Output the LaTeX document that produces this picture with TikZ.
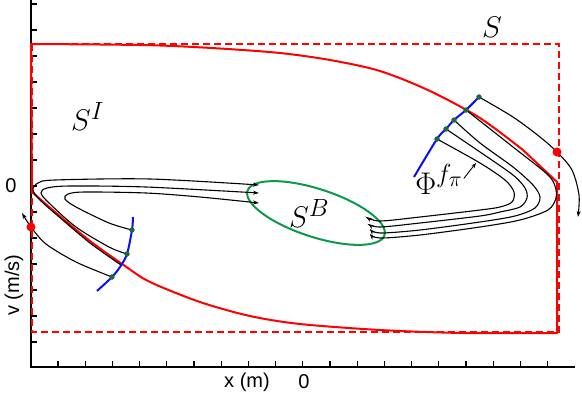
\documentclass[tikz,border=0pt]{standalone}
\usepackage{fontspec}
\newfontfamily\axisfont{Liberation Sans}
\usepackage{tikz}
\usetikzlibrary{shapes.geometric,arrows.meta,positioning}
\definecolor{setRed}{HTML}{FF0000}
\definecolor{basinGreen}{HTML}{0A9A4A}
\definecolor{dotGreen}{HTML}{1B6B3A}
\definecolor{sectBlue}{HTML}{0A10F0}
\tikzset{
  axisline/.style={draw=black, line width=2pt},
  tickmark/.style={draw=black, line width=1.3pt},
  setline/.style={draw=setRed, line width=2pt, line join=round},
  setdash/.style={draw=setRed, line width=2pt, dash pattern=on 7pt off 4pt},
  sectline/.style={draw=sectBlue, line width=2pt},
  basin/.style={ellipse, draw=basinGreen, line width=2pt, inner sep=0pt,
    minimum width=144pt, minimum height=48pt},
  traj/.style={draw=black, line width=1.1pt, -{Stealth[length=6pt,width=4pt]}},
  hitdot/.style={circle, fill=dotGreen, inner sep=0pt, minimum size=5pt},
  exitdot/.style={circle, fill=setRed, inner sep=0pt, minimum size=9pt},
  axislab/.style={font=\axisfont\fontsize{20}{24}\selectfont, inner sep=0pt},
  setlab/.style={font=\Huge, scale=1.2, inner sep=0pt, anchor=base west}
}

\begin{document}
\begin{tikzpicture}[x=1pt, y=-1pt]
\useasboundingbox (0,0) rectangle (582,394);

% axes
\draw[axisline] (31,0) -- (31,368);
\draw[axisline] (30,367) -- (575,367);
\foreach \ty in {4,30,...,342}
  \draw[tickmark] (31,\ty) -- (37,\ty);
\foreach \k in {0,...,18}
  \draw[tickmark] ({58+27.2*\k},367) -- ({58+27.2*\k},361);
\node[axislab] (vzero) at (11,186) {0};
\node[axislab, rotate=90] (vlab) at (14,285) {v (m/s)};
\node[axislab] (xlab) at (247,382) {x (m)};
\node[axislab] (xzero) at (304,382) {0};

% the sets S and S^I
\draw[setdash] (32,44) rectangle (559,332);
\draw[setline] plot[smooth] coordinates {(31,44) (100,44.5) (160,45.5) (220,48.5)
    (280,53) (330,60) (380,71) (430,91) (480,118) (523,150)}
  -- (557,182) -- (557,333)
  -- plot[smooth] coordinates {(557,333) (463,333) (380,330) (300,324) (250,316)
    (200,302) (150,282) (125,266) (90,241) (55,212) (32,192)}
  -- cycle;

% basin S^B
\node[basin, rotate=-18] (SB) at (316,213) {};

% hit points on the two sections
\node[hitdot] (gL1) at (132,230) {};
\node[hitdot] (gL2) at (127,254) {};
\node[hitdot] (gL3) at (112,277) {};
\node[hitdot] (gR1) at (437,139) {};
\node[hitdot] (gR2) at (446,129) {};
\node[hitdot] (gR3) at (454,120) {};
\node[hitdot] (gR4) at (466,110) {};
\node[hitdot] (gR5) at (479,97) {};
\coordinate (xL) at (31,227);
\coordinate (xR) at (557,152);

% trajectories, left bundle
\draw[traj] plot[smooth] coordinates {(121,265) (90,243) (58,216) (40,200) (33,190)
  (38,183) (55,180) (150,179) (259,185)};
\draw[traj] plot[smooth] coordinates {(gL2) (109,247) (76,227) (49,203) (41,193)
  (47,188) (70,186) (146,187) (259,193)};
\draw[traj] plot[smooth] coordinates {(gL1) (109,223) (76,207) (65,199) (68,194)
  (85,192) (146,193) (200,197) (259,203)};
\draw[traj] plot[smooth] coordinates {(gL3) (76,262) (46,244) (xL) (22,213)};

% trajectories, right bundle
\draw[traj] plot[smooth] coordinates {(gR1) (480,163) (505,180) (514,192) (512,202)
  (500,207) (480,210) (420,217) (380,221) (366,217)};
\draw[traj] plot[smooth] coordinates {(gR2) (480,152) (513,175) (525,188) (527,198)
  (520,207) (500,212) (480,216) (420,223) (380,227) (368,224)};
\draw[traj] plot[smooth] coordinates {(gR3) (480,143) (513,167) (533,185) (540,197)
  (535,208) (515,216) (480,222) (420,230) (380,233) (370,229)};
\draw[traj] plot[smooth] coordinates {(gR4) (480,121) (513,147) (547,174) (555,186)
  (556,198) (548,210) (520,220) (480,227) (420,235) (380,238) (370,234)};
\draw[traj] plot[smooth] coordinates {(gR5) (513,117) (540,137) (xR) (572,170)
  (579,195) (578,217)};

% sections
\draw[sectline] plot[smooth] coordinates {(133,217) (gL1) (gL2) (120,267) (gL3) (97,291)};
\draw[sectline] plot[smooth] coordinates {(414,177) (gR1) (gR2) (gR3) (gR4) (gR5)};
\foreach \g in {gL1,gL2,gL3,gR1,gR2,gR3,gR4,gR5}
  \fill[dotGreen] (\g) circle (2.6);
\node[exitdot] (dL) at (xL) {};
\node[exitdot] (dR) at (xR) {};

% labels
\node[setlab] (Slab) at (482,37) {$S$};
\node[setlab] (SIlab) at (71,130) {$S^I$};
\node[setlab] (SBlab) at (289,227) {$S^B$};
\node[setlab, scale=1.05] (Philab) at (415,194) {$\Phi^{f_\pi}$};
\coordinate (phitip) at (476,163);
\draw[draw=black, line width=0.9pt, -{Stealth[length=5pt,width=4pt]}, shorten <=1pt]
  (Philab.east) -- (phitip);
\end{tikzpicture}
\end{document}
